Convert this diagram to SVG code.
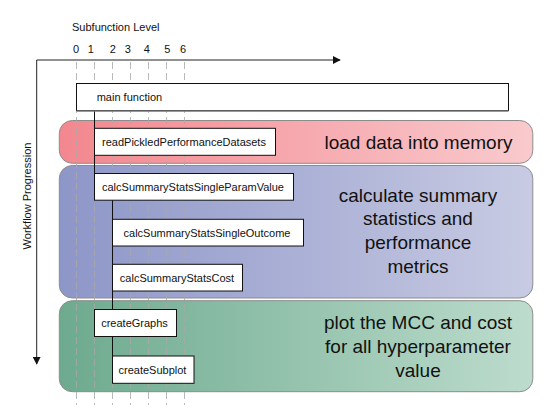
<svg xmlns="http://www.w3.org/2000/svg" width="548" height="410" viewBox="0 0 548 410">
<defs>
<linearGradient id="gRed" x1="0" y1="0" x2="1" y2="0">
<stop offset="0" stop-color="#f3878f"/><stop offset="1" stop-color="#f9cacd"/>
</linearGradient>
<linearGradient id="gBlue" x1="0" y1="0" x2="1" y2="0">
<stop offset="0" stop-color="#8d96c8"/><stop offset="1" stop-color="#c8cbe3"/>
</linearGradient>
<linearGradient id="gGreen" x1="0" y1="0" x2="1" y2="0">
<stop offset="0" stop-color="#6daa8e"/><stop offset="1" stop-color="#bddccd"/>
</linearGradient>
<marker id="arr" viewBox="0 0 10 10" refX="9" refY="5" markerWidth="8" markerHeight="8" markerUnits="userSpaceOnUse" orient="auto">
<path d="M0,0 L10,5 L0,10 Z" fill="#111"/>
</marker>
<style>
.band{stroke:#8c8c8c;stroke-width:1}
.box{fill:#fff;stroke:#111;stroke-width:1}
.bt{font-family:"Liberation Sans",Arial,sans-serif;font-size:11px;fill:#111;text-anchor:middle}
.big{font-family:"Liberation Sans",Arial,sans-serif;font-size:19px;fill:#111;text-anchor:middle}
.lab{font-family:"Liberation Sans",Arial,sans-serif;font-size:11px;fill:#111}
.dash{stroke:#a8a8a8;stroke-width:0.8;stroke-dasharray:7 4;fill:none}
.axis{stroke:#222;stroke-width:1;fill:none}
.conn{stroke:#111;stroke-width:1;fill:none}
</style>
</defs>

<g id="axes">
<line class="axis" x1="36.7" y1="60" x2="340" y2="60" marker-end="url(#arr)"/>
<line class="axis" x1="36.7" y1="60" x2="36.7" y2="364" marker-end="url(#arr)"/>
<text class="lab" x="72" y="31" font-size="11.2">Subfunction Level</text>
<text class="lab" x="31" y="196" text-anchor="middle" transform="rotate(-90 31 196)">Workflow Progression</text>
<g class="lab" text-anchor="middle" font-size="10.5">
<text x="76" y="52.5" text-anchor="middle">0</text>
<text x="90.7" y="52.5" text-anchor="middle">1</text>
<text x="112.7" y="52.5" text-anchor="middle">2</text>
<text x="127.7" y="52.5" text-anchor="middle">3</text>
<text x="146.7" y="52.5" text-anchor="middle">4</text>
<text x="167.3" y="52.5" text-anchor="middle">5</text>
<text x="183" y="52.5" text-anchor="middle">6</text>
</g>
</g>

<g id="band-load">
<rect class="band" x="59.3" y="120.5" width="473.5" height="42.8" rx="13" fill="url(#gRed)"/>
<text class="big" x="418.5" y="148.5">load data into memory</text>
</g>
<g id="band-calc">
<rect class="band" x="59.3" y="165.5" width="473.5" height="132.5" rx="13" fill="url(#gBlue)"/>
<text class="big" x="418" y="201.5">calculate summary</text>
<text class="big" x="418" y="225.3">statistics and</text>
<text class="big" x="418" y="249.2">performance</text>
<text class="big" x="418" y="273">metrics</text>
</g>
<g id="band-plot">
<rect class="band" x="59.3" y="300.7" width="473.5" height="91" rx="13" fill="url(#gGreen)"/>
<text class="big" x="418" y="329">plot the MCC and cost</text>
<text class="big" x="418" y="352.8">for all hyperparameter</text>
<text class="big" x="418" y="376.5">value</text>
</g>

<g id="levels">
<line class="dash" x1="76.5" y1="62" x2="76.5" y2="405"/>
<line class="dash" x1="94.5" y1="62" x2="94.5" y2="405"/>
<line class="dash" x1="112.5" y1="62" x2="112.5" y2="405"/>
<line class="dash" x1="130.5" y1="62" x2="130.5" y2="405"/>
<line class="dash" x1="148.5" y1="62" x2="148.5" y2="405"/>
<line class="dash" x1="166.5" y1="62" x2="166.5" y2="405"/>
<line class="dash" x1="184.5" y1="62" x2="184.5" y2="405"/>
</g>

<g id="connectors">
<line class="conn" x1="94.5" y1="111" x2="94.5" y2="173.5"/>
<line class="conn" x1="112.5" y1="200" x2="112.5" y2="356"/>
</g>

<g id="main-function">
<rect class="box" x="76.5" y="83.5" width="432" height="27"/>
<line x1="76.5" y1="111" x2="508.5" y2="111" stroke="#777" stroke-width="1.6"/>
<text class="lab" x="96.7" y="101.3" font-size="11.5">main function</text>
</g>
<g id="readPickledPerformanceDatasets">
<rect class="box" x="94.5" y="128.3" width="181" height="27"/>
<text class="bt" x="184" y="146">readPickledPerformanceDatasets</text>
</g>
<g id="calcSummaryStatsSingleParamValue">
<rect class="box" x="94.5" y="173.5" width="199" height="26.7"/>
<text class="bt" x="193" y="190.8">calcSummaryStatsSingleParamValue</text>
</g>
<g id="calcSummaryStatsSingleOutcome">
<rect class="box" x="112.5" y="219.3" width="191" height="26.7"/>
<text class="bt" x="207" y="236.5">calcSummaryStatsSingleOutcome</text>
</g>
<g id="calcSummaryStatsCost">
<rect class="box" x="112.5" y="264.3" width="130" height="26.7"/>
<text class="bt" x="177" y="281.5">calcSummaryStatsCost</text>
</g>
<g id="createGraphs">
<rect class="box" x="94.5" y="309.5" width="82" height="27"/>
<text class="bt" x="134.5" y="327">createGraphs</text>
</g>
<g id="createSubplot">
<rect class="box" x="112.5" y="356" width="81.5" height="27.3"/>
<text class="bt" x="152.5" y="373.8">createSubplot</text>
</g>
</svg>
